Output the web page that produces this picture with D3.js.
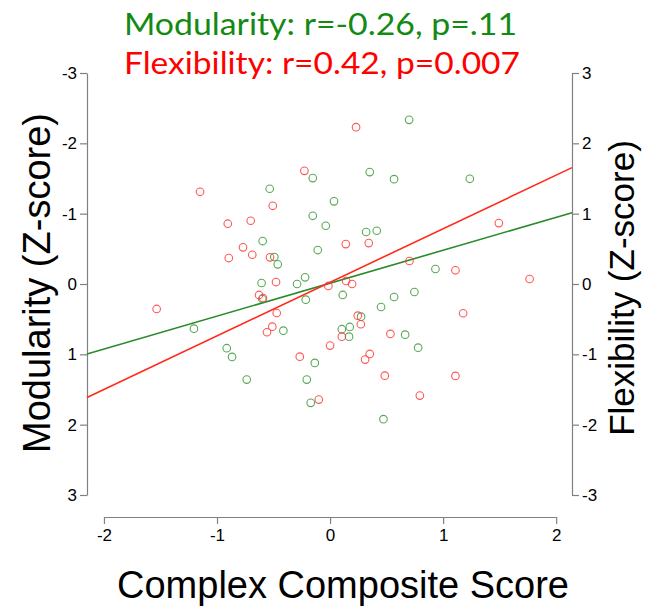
<!DOCTYPE html>
<html>
<head>
<meta charset="utf-8">
<script src="https://cdn.jsdelivr.net/npm/d3@7/dist/d3.min.js"></script>
<style>
  html, body { margin: 0; padding: 0; background: #fff; }
  svg { display: block; }
</style>
</head>
<body>
<svg id="chart" width="646" height="609"></svg>
<script>
// ---- data ----
const modX = [-0.153,-0.534,-0.153,-0.038,-0.596,-0.109,-0.493,-0.463,-0.221,-0.606,
               0.699, 0.351, 0.566, 1.236, 0.035, 0.319, 0.413, 0.932,-0.292,-1.204,
              -0.599,-0.215,-0.413,-0.914,-0.867,-0.135,-0.737,-0.206,-0.171, 0.112,
               0.451, 0.566, 0.746, 0.274, 0.104, 0.174, 0.168, 0.664, 0.779, 0.472];
const modY = [-1.506,-1.354,-0.970,-0.828,-0.611,-0.483,-0.384,-0.280,-0.095,-0.014,
              -2.334,-1.591,-1.491,-1.496,-1.175,-0.739,-0.757,-0.213, 0.000, 0.635,
               0.213, 0.223, 0.663, 0.913, 1.037, 1.122, 1.359, 1.359, 1.690, 0.156,
               0.327, 0.185, 0.114, 0.464, 0.643, 0.611, 0.749, 0.720, 0.905, 1.922];
const flexX = [-1.150,-0.227,-0.507,-0.905,-0.702,-0.770,-0.688,-0.896,-0.531,-0.478,
                0.230, 0.139, 0.342, 1.493, 0.702, 1.109, 1.765,-1.534,-0.628,-0.593,
               -0.472,-0.511,-0.558,-0.268,-0.100,-0.015, 0.000, 0.142, 0.195, 1.177,
                0.245, 0.272, 0.104, 0.534, 0.351, 0.310, 0.484, 1.109, 0.794];
const flexY = [ 1.311, 1.609, 1.112, 0.857, 0.899, 0.521, 0.416, 0.369, 0.379, 0.028,
                2.230, 0.568, 0.582, 0.866, 0.327, 0.195, 0.071,-0.355,-0.156,-0.199,
               -0.412,-0.607,-0.686,-1.033,-1.643,-0.028,-0.876, 0.043, 0.000,-0.416,
               -0.450,-0.572,-0.749,-0.710,-0.994,-1.075,-1.303,-1.307,-1.587];
// fitted lines [intercept, slope]
const modFit = [-0.012, -0.468];
const flexFit = [0.024, 0.762];
const xTicks = [-2, -1, 0, 1, 2];
const yTicks = [-3, -2, -1, 0, 1, 2, 3];
const titles = ["Modularity: r=-0.26, p=.11", "Flexibility: r=0.42, p=0.007"];
const xLabel = "Complex Composite Score";
const yLeftLabel = "Modularity (Z-score)";
const yRightLabel = "Flexibility (Z-score)";

// ---- layout ----
const svg = d3.select("#chart");
const L = 87, R = 572, T = 73, B = 495;
const x = d3.scaleLinear().domain([-2.15, 2.14]).range([L, R]);
const yMod = d3.scaleLinear().domain([-3, 3]).range([T, B]);
const yFlex = d3.scaleLinear().domain([3, -3]).range([T, B]);

const axisColor = "#808080";
const tickFont = "'Liberation Sans', Arial, sans-serif";

function styleAxis(g) {
  g.select(".domain").attr("stroke", axisColor).attr("stroke-width", 1.2);
  g.selectAll(".tick line").attr("stroke", axisColor).attr("stroke-width", 1.2);
  g.selectAll(".tick text").attr("fill", "#000").style("font-family", tickFont).style("font-size", "17px");
}

// x axis (only spans tick range, like R)
const xAxisScale = d3.scaleLinear().domain([-2, 2]).range([x(-2), x(2)]);
svg.append("g").attr("transform", `translate(0,517)`)
  .call(d3.axisBottom(xAxisScale).tickValues(xTicks).tickFormat(d => String(d))
        .tickSize(7).tickSizeOuter(0).tickPadding(5))
  .call(styleAxis);

svg.append("g").attr("transform", `translate(${L},0)`)
  .call(d3.axisLeft(yMod).tickValues(yTicks).tickFormat(d => String(d))
        .tickSize(7).tickSizeOuter(0).tickPadding(3))
  .call(styleAxis);

svg.append("g").attr("transform", `translate(${R},0)`)
  .call(d3.axisRight(yFlex).tickValues(yTicks).tickFormat(d => String(d))
        .tickSize(7).tickSizeOuter(0).tickPadding(3))
  .call(styleAxis);

// fitted lines across the plot width
const xd = x.domain();
svg.append("line")
  .attr("x1", x(xd[0])).attr("y1", yMod(modFit[0] + modFit[1] * xd[0]))
  .attr("x2", x(xd[1])).attr("y2", yMod(modFit[0] + modFit[1] * xd[1]))
  .attr("stroke", "#2a8a2a").attr("stroke-width", 1.6);
svg.append("line")
  .attr("x1", x(xd[0])).attr("y1", yFlex(flexFit[0] + flexFit[1] * xd[0]))
  .attr("x2", x(xd[1])).attr("y2", yFlex(flexFit[0] + flexFit[1] * xd[1]))
  .attr("stroke", "#ff2a1a").attr("stroke-width", 1.6);

// points
svg.append("g").selectAll("circle").data(d3.range(modX.length)).join("circle")
  .attr("cx", i => x(modX[i])).attr("cy", i => yMod(modY[i])).attr("r", 3.8)
  .attr("fill", "none").attr("stroke", "#3a9a3a").attr("stroke-opacity", 0.85).attr("stroke-width", 1.1);
svg.append("g").selectAll("circle").data(d3.range(flexX.length)).join("circle")
  .attr("cx", i => x(flexX[i])).attr("cy", i => yFlex(flexY[i])).attr("r", 3.8)
  .attr("fill", "none").attr("stroke", "#ff3a3a").attr("stroke-opacity", 0.85).attr("stroke-width", 1.1);

// titles
const titleColors = ["#138a13", "#ff0000"];
const titleBase = [35, 74];
titles.forEach((t, i) => {
  svg.append("text").attr("x", 124).attr("y", titleBase[i])
    .attr("fill", titleColors[i])
    .style("font-family", "Lato, 'Open Sans', sans-serif").style("font-size", "31px")
    .attr("textLength", i === 0 ? 393 : 396).attr("lengthAdjust", "spacingAndGlyphs")
    .text(t);
});

// axis titles
svg.append("text").attr("x", 343).attr("y", 598)
  .attr("text-anchor", "middle").attr("fill", "#000")
  .style("font-family", tickFont).style("font-size", "38px").text(xLabel);
svg.append("text").attr("transform", `translate(50,283) rotate(-90)`)
  .attr("text-anchor", "middle").attr("fill", "#000")
  .style("font-family", tickFont).style("font-size", "38px").text(yLeftLabel);
svg.append("text").attr("transform", `translate(634,288) rotate(-90)`)
  .attr("text-anchor", "middle").attr("fill", "#000")
  .style("font-family", tickFont).style("font-size", "35px").text(yRightLabel);
</script>
</body>
</html>
